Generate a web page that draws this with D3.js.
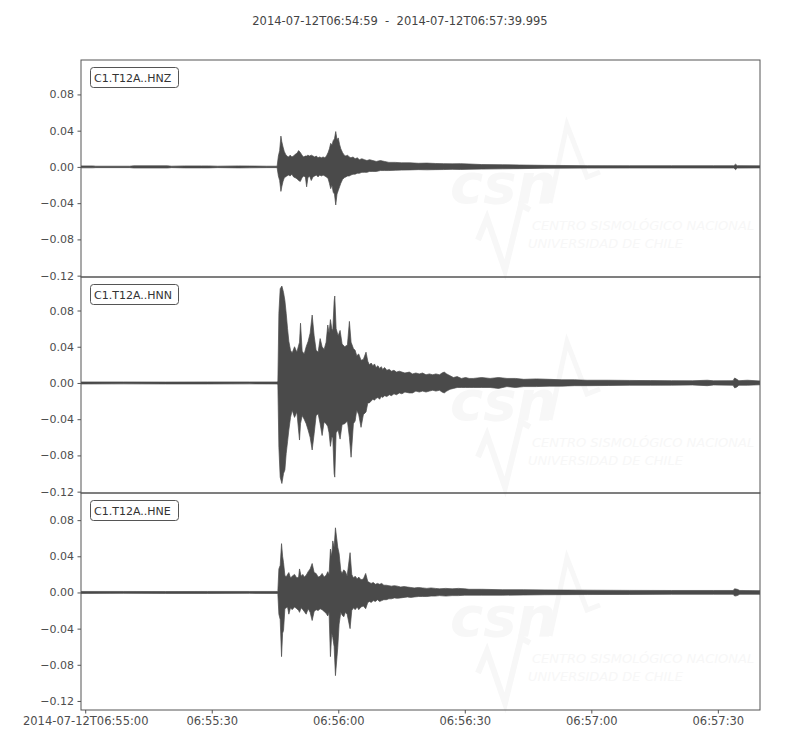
<!DOCTYPE html>
<html><head><meta charset="utf-8">
<script src="https://cdn.jsdelivr.net/npm/d3@7"></script>
<style>body{margin:0;background:#fff} svg{display:block;font-family:"DejaVu Sans",sans-serif}</style>
</head><body><svg id="c" width="800" height="750"></svg>
<script>
const startTime = "2014-07-12T06:54:59Z";
const duration = 160.995;
const title = "2014-07-12T06:54:59  -  2014-07-12T06:57:39.995";
const channels = ["C1.T12A..HNZ", "C1.T12A..HNN", "C1.T12A..HNE"];
const xTickSeconds = [1, 31, 61, 91, 121, 151];
const xTickLabels = ["2014-07-12T06:55:00", "06:55:30", "06:56:00", "06:56:30", "06:57:00", "06:57:30"];
const yTicks = [-0.12, -0.08, -0.04, 0, 0.04, 0.08];
const yDomains = [[-0.1215, 0.118], [-0.1215, 0.117], [-0.130, 0.110]];

// [seconds after start, envelope max, envelope min]
const hnzSamples = [
[0,.0011,-.0010],[2.8,.0011,-.0010],[3.5,.0008,-.0008],[11.5,.0008,-.0008],[12.5,.0012,-.0012],[20.5,.0012,-.0012],
[21.5,.0008,-.0008],[24.6,.0011,-.0011],[28.6,.0011,-.0011],[30.3,.0011,-.0011],[32.4,.0008,-.0008],[37.4,.0011,-.0011],
[40,.0010,-.0010],[44,.0008,-.0008],[46.5,.0008,-.0008],
[46.8,.012,-.010],[47.1,.018,-.015],[47.4,.034,-.027],[47.6,.028,-.022],[47.9,.022,-.016],[48.2,.017,-.012],
[48.5,.014,-.011],[48.8,.012,-.010],[49.2,.011,-.009],[49.6,.013,-.010],[50.0,.011,-.008],[50.4,.012,-.011],
[50.8,.014,-.012],[51.2,.015,-.013],[51.6,.018,-.015],[52.0,.016,-.016],[52.4,.013,-.012],[52.8,.011,-.010],
[53.2,.012,-.011],[53.5,.012,-.022],[53.8,.013,-.012],[54.2,.012,-.010],[54.6,.013,-.015],[55.0,.012,-.011],
[55.4,.011,-.010],[55.8,.012,-.009],[56.2,.010,-.011],[56.6,.011,-.009],[57.0,.010,-.010],[57.4,.011,-.009],
[57.8,.010,-.010],[58.2,.012,-.011],[58.6,.016,-.013],[58.9,.020,-.018],[59.2,.026,-.024],[59.5,.024,-.020],
[59.8,.029,-.028],[60.1,.031,-.030],[60.4,.039,-.042],[60.7,.030,-.030],[61.0,.032,-.026],[61.3,.025,-.022],
[61.6,.020,-.018],[62.0,.016,-.014],[62.4,.013,-.012],[62.8,.012,-.011],[63.2,.013,-.010],[63.6,.011,-.010],
[64.0,.010,-.009],[64.5,.011,-.008],[65.0,.009,-.008],[65.5,.010,-.007],[66.0,.008,-.007],[66.6,.009,-.006],
[67.2,.008,-.006],[67.8,.007,-.006],[68.4,.008,-.005],[69.2,.007,-.005],[70.0,.006,-.005],[71.0,.007,-.004],
[72.0,.006,-.004],[73.0,.005,-.004],[74.5,.005,-.0037],[76,.0045,-.0035],[78,.0045,-.0033],[80,.004,-.003],
[82,.0042,-.0032],[84,.0038,-.003],[86,.0036,-.0029],[88,.0034,-.0027],[90,.0036,-.0028],[92,.0032,-.0026],
[95,.0026,-.0024],[100,.0024,-.0021],[104,.0021,-.0019],[110,.0017,-.0015],[120,.0014,-.0013],[130,.0013,-.0012],
[140,.0013,-.0012],[150,.0013,-.0012],[154.8,.0013,-.0012],[155.2,.003,-.003],[155.6,.0014,-.0013],[160.995,.0012,-.0011]
];
const hnnSamples = [
[0,.0011,-.0011],[10,.0011,-.0010],[20,.0010,-.0011],[30,.0011,-.0011],[40,.0011,-.0010],[46.5,.0011,-.0011],
[46.68,.002,-.002],[46.92,.077,-.071],[47.23,.104,-.104],[47.63,.107,-.111],[48.02,.100,-.100],[48.34,.091,-.096],
[48.65,.077,-.078],[48.97,.060,-.065],[49.28,.046,-.052],[49.68,.036,-.038],[50.07,.033,-.030],[50.63,.040,-.038],
[51.18,.034,-.032],[51.81,.045,-.063],[52.05,.066,-.045],[52.44,.035,-.036],[52.92,.032,-.040],[53.39,.040,-.045],
[53.86,.046,-.052],[54.33,.055,-.060],[54.81,.075,-.074],[55.28,.052,-.056],[55.75,.036,-.036],[56.23,.034,-.034],
[56.70,.049,-.045],[57.17,.040,-.058],[57.64,.037,-.043],[58.12,.045,-.045],[58.51,.064,-.048],[58.82,.055,-.055],
[59.14,.070,-.070],[59.45,.060,-.060],[59.70,.058,-.060],[60.02,.090,-.100],[60.17,.096,-.104],[60.49,.060,-.055],
[60.96,.052,-.052],[61.43,.058,-.062],[61.91,.043,-.046],[62.54,.040,-.045],[63.17,.042,-.042],[63.64,.068,-.060],
[64.04,.045,-.082],[64.59,.038,-.045],[65.00,.036,-.042],[65.38,.030,-.030],[65.85,.032,-.035],[66.40,.025,-.049],
[66.95,.026,-.035],[67.58,.034,-.032],[68.0,.024,-.022],[68.37,.020,-.022],[68.8,.022,-.020],[69.2,.019,-.018],
[69.6,.021,-.019],[69.95,.017,-.017],[70.4,.019,-.016],[70.8,.016,-.018],[71.2,.018,-.015],[71.53,.015,-.016],
[72.0,.017,-.014],[72.5,.014,-.015],[73.11,.015,-.013],[73.6,.013,-.014],[74.2,.014,-.012],[74.8,.012,-.013],
[75.47,.013,-.011],[76.1,.012,-.012],[76.8,.011,-.010],[77.84,.012,-.011],[78.6,.010,-.011],[79.4,.011,-.009],
[80.2,.010,-.010],[81.0,.011,-.009],[81.8,.009,-.010],[82.6,.010,-.009],[83.4,.009,-.008],[84.15,.010,-.009],
[85.0,.009,-.008],[85.6,.011,-.010],[86.12,.012,-.011],[86.7,.010,-.009],[87.5,.008,-.007],[88.3,.006,-.006],
[89.2,.007,-.005],[90.2,.005,-.005],[91.2,.006,-.005],[92.04,.005,-.005],[93,.005,-.005],[95,.006,-.005],
[97,.005,-.005],[99,.006,-.006],[101,.005,-.004],[103,.005,-.005],[105,.004,-.004],[108,.0045,-.004],
[111,.004,-.0035],[114,.0035,-.0035],[117,.0035,-.003],[120,.003,-.003],[125,.003,-.0028],[130,.0028,-.0025],
[135,.0026,-.0025],[140,.0025,-.0024],[145,.0024,-.0022],[148.5,.003,-.003],[150,.0024,-.0022],[154.6,.0025,-.0025],
[155.0,.0055,-.0055],[155.5,.004,-.0045],[156,.0025,-.0025],[158,.003,-.0025],[160.995,.0022,-.002]
];
const hneSamples = [
[0,.0011,-.0011],[10,.0011,-.0010],[20,.0010,-.0011],[30,.0011,-.0011],[40,.0011,-.0010],[46.5,.0011,-.0011],
[46.68,.002,-.002],[46.92,.026,-.024],[47.23,.030,-.030],[47.55,.054,-.071],[47.8,.040,-.045],[48.02,.033,-.042],
[48.34,.019,-.018],[48.65,.017,-.017],[48.97,.020,-.016],[49.28,.022,-.024],[49.68,.016,-.017],[50.07,.018,-.019],
[50.63,.020,-.016],[51.18,.016,-.018],[51.6,.017,-.020],[51.81,.026,-.022],[52.2,.018,-.017],[52.6,.020,-.019],
[52.92,.017,-.021],[53.39,.019,-.024],[53.86,.023,-.018],[54.33,.026,-.022],[54.81,.032,-.031],[55.28,.022,-.021],
[55.75,.021,-.019],[56.23,.017,-.020],[56.70,.018,-.018],[57.17,.021,-.019],[57.64,.017,-.021],[58.12,.019,-.023],
[58.51,.023,-.026],[58.82,.020,-.022],[59.14,.048,-.071],[59.45,.040,-.045],[59.70,.057,-.050],[60.02,.050,-.060],
[60.33,.0715,-.092],[60.88,.050,-.061],[61.2,.043,-.035],[61.6,.024,-.022],[61.91,.021,-.025],[62.3,.025,-.027],
[62.7,.023,-.022],[63.1,.018,-.024],[63.8,.044,-.040],[64.2,.020,-.020],[64.6,.016,-.017],[65.0,.018,-.019],
[65.5,.015,-.016],[65.85,.017,-.019],[66.4,.014,-.016],[66.95,.015,-.015],[67.5,.021,-.018],[68.0,.012,-.011],
[68.4,.011,-.010],[68.8,.010,-.011],[69.3,.011,-.009],[69.8,.009,-.010],[70.3,.010,-.008],[70.8,.009,-.010],
[71.3,.010,-.009],[71.8,.008,-.008],[72.4,.008,-.008],[73.0,.0075,-.007],[73.6,.007,-.007],[74.3,.0075,-.006],
[75.0,.007,-.0065],[75.8,.006,-.006],[76.6,.0065,-.0055],[77.4,.006,-.005],[78.2,.0055,-.0055],[79.0,.005,-.005],
[80.0,.0055,-.0045],[81.0,.005,-.0045],[82.0,.0045,-.0045],[83.0,.005,-.004],[84.0,.0045,-.004],[85.0,.004,-.0035],
[86.5,.0045,-.004],[88.0,.004,-.0035],[89.5,.0045,-.0035],[91.0,.004,-.003],[92.0,.0035,-.003],[95,.0035,-.003],
[100,.003,-.003],[105,.003,-.0028],[110,.0028,-.0025],[115,.0026,-.0024],[120,.0025,-.0023],[130,.0023,-.0022],
[140,.0022,-.002],[150,.0022,-.002],[154.6,.0022,-.002],[155.0,.004,-.004],[155.6,.0035,-.0035],[156.2,.0022,-.002],
[160.995,.002,-.002]
];
const watermarkLines = ["CENTRO SISMOLÓGICO NACIONAL", "UNIVERSIDAD DE CHILE"];
const watermarkLogo = "csn";

const svg = d3.select("#c");
const left = 81, right = 760;
const panelTops = [60, 277, 493], panelBottoms = [277, 493, 710];
const t0 = new Date(startTime);
const toDate = s => new Date(+t0 + s * 1000);
const x = d3.scaleUtc().domain([t0, toDate(duration)]).range([left, right]);
const ink = "#4a4a4a", axisCol = "#555", textCol = "#4d4d4d";
const series = [hnzSamples, hnnSamples, hneSamples];

svg.append("text").attr("x", 400).attr("y", 25).attr("text-anchor", "middle")
  .style("white-space", "pre").attr("font-size", 11.5).attr("fill", "#444").text(title);

const defs = svg.append("defs");

channels.forEach((name, i) => {
  const top = panelTops[i], bot = panelBottoms[i];
  const y = d3.scaleLinear().domain(yDomains[i]).range([bot, top]);
  const g = svg.append("g");
  defs.append("clipPath").attr("id", "clip" + i).append("rect")
    .attr("x", left).attr("y", top).attr("width", right - left).attr("height", bot - top);

  // very faint watermark
  const wm = g.append("g").attr("transform", `translate(0,${top})`);
  const wmCol = "#f7f7f7";
  wm.append("text").attr("x", 450).attr("y", 143).attr("font-size", 56).attr("font-weight", "bold")
    .attr("font-style", "italic").attr("fill", wmCol).text(watermarkLogo);
  wm.append("path").attr("d", "M550,143 L567,65 L587,117 L600,112")
    .attr("fill", "none").attr("stroke", wmCol).attr("stroke-width", 5);
  wm.append("path").attr("d", "M478,180 L487,158 L505,210 L521,145 L530,150")
    .attr("fill", "none").attr("stroke", wmCol).attr("stroke-width", 6);
  wm.append("text").attr("x", 532).attr("y", 170).attr("font-size", 13).attr("font-style", "italic")
    .attr("fill", wmCol).text(watermarkLines[0]);
  wm.append("text").attr("x", 528).attr("y", 188).attr("font-size", 13).attr("font-style", "italic")
    .attr("fill", wmCol).text(watermarkLines[1]);

  const area = d3.area().x(d => x(toDate(d[0]))).y0(d => y(d[2])).y1(d => y(d[1]));
  g.append("path").datum(series[i]).attr("clip-path", `url(#clip${i})`).attr("d", area)
    .attr("fill", ink).attr("stroke", ink).attr("stroke-width", 0.7).attr("stroke-linejoin", "round");

  g.append("rect").attr("x", left).attr("y", top).attr("width", right - left).attr("height", bot - top)
    .attr("fill", "none").attr("stroke", axisCol).attr("stroke-width", 1);

  // label box
  const lb = g.append("g");
  lb.append("rect").attr("x", 90.5).attr("y", top + 7.5).attr("width", 88).attr("height", 20).attr("rx", 3)
    .attr("fill", "#fff").attr("stroke", "#555").attr("stroke-width", 1);
  lb.append("text").attr("x", 94).attr("y", top + 21.5).attr("font-size", 11).attr("fill", "#333").text(name);

  const ya = g.append("g").attr("transform", `translate(${left},0)`)
    .call(d3.axisLeft(y).tickValues(yTicks).tickFormat(d3.format(".2f")).tickSize(3.5).tickPadding(3.5));
  ya.select(".domain").remove();
  ya.selectAll("line").attr("stroke", axisCol);
  ya.selectAll("text").attr("font-family", "DejaVu Sans").attr("font-size", 11).attr("fill", textCol);
});

const xa = svg.append("g").attr("transform", `translate(0,${panelBottoms[2]})`)
  .call(d3.axisBottom(x).tickValues(xTickSeconds.map(toDate)).tickFormat((d, i) => xTickLabels[i]).tickSize(3.5).tickPadding(3.5));
xa.select(".domain").remove();
xa.selectAll("line").attr("stroke", axisCol);
xa.selectAll("text").attr("font-family", "DejaVu Sans").attr("font-size", 11.5).attr("fill", textCol);
</script></body></html>
